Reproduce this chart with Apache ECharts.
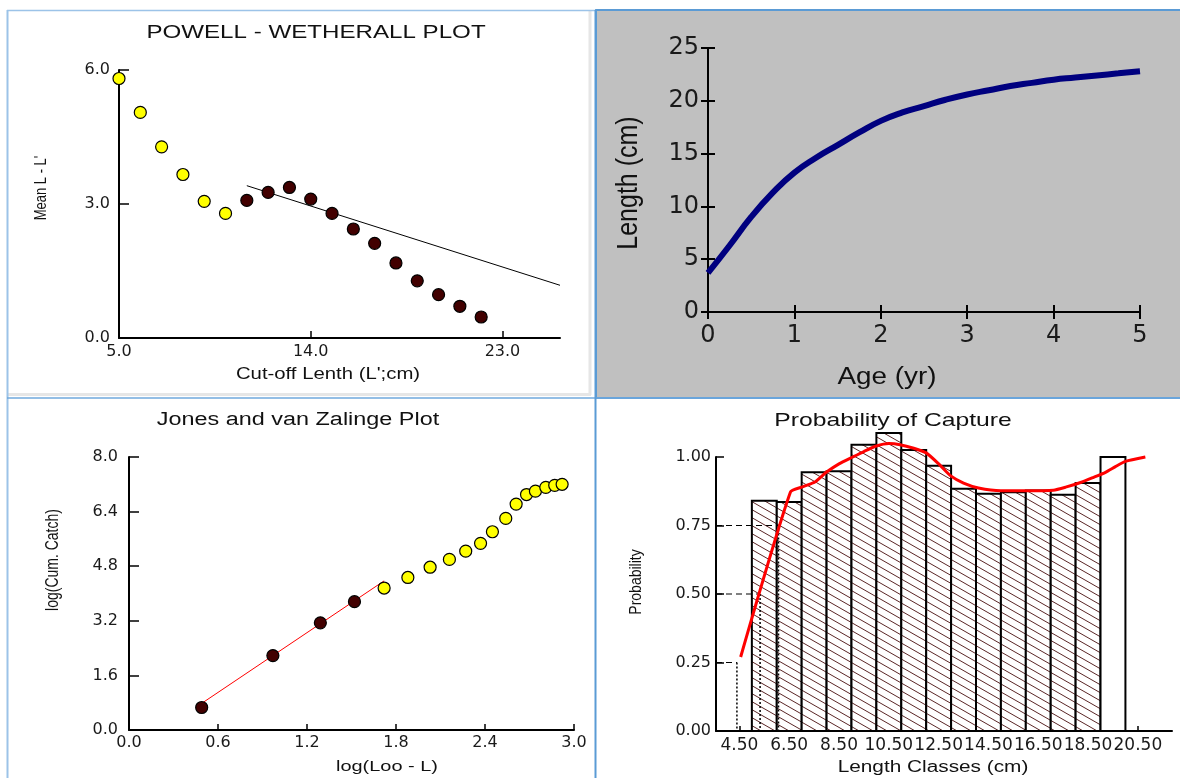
<!DOCTYPE html>
<html><head><meta charset="utf-8">
<script src="https://cdn.jsdelivr.net/npm/echarts@6/dist/echarts.min.js"></script>
<style>html,body{margin:0;padding:0;background:#fff}#c{width:1180px;height:778px}</style>
</head><body><div id="c"></div>
<script>
// ---------------- DATA ----------------
// Powell - Wetherall plot
const pwCutoff   = [5, 6, 7, 8, 9, 10, 11, 12, 13, 14, 15, 16, 17, 18, 19, 20, 21, 22];
const pwMeanDiff = [5.81, 5.05, 4.28, 3.66, 3.06, 2.79, 3.08, 3.26, 3.37, 3.11, 2.79, 2.44, 2.12, 1.68, 1.28, 0.97, 0.71, 0.47];
const pwUsed     = [0, 0, 0, 0, 0, 0, 1, 1, 1, 1, 1, 1, 1, 1, 1, 1, 1, 1];
const pwFitX     = [11, 25.7];
const pwFitY     = [3.41, 1.18];
const pwXTicks   = [5, 14, 23];

// Growth curve
const vbAge    = [0, 0.25, 0.5, 0.75, 1, 1.25, 1.5, 1.75, 2, 2.25, 2.5, 2.75, 3, 3.25, 3.5, 3.75, 4, 4.25, 4.5, 4.75, 5];
const vbLength = [3.7, 6.3, 9.0, 11.3, 13.2, 14.6, 15.8, 17.0, 18.1, 18.9, 19.5, 20.1, 20.6, 21.0, 21.4, 21.7, 22.0, 22.2, 22.4, 22.6, 22.8];

// Jones and van Zalinge plot
const jzX    = [0.49, 0.97, 1.29, 1.52, 1.72, 1.88, 2.03, 2.16, 2.27, 2.37, 2.45, 2.54, 2.61, 2.68, 2.74, 2.81, 2.87, 2.92];
const jzY    = [0.66, 2.18, 3.14, 3.76, 4.16, 4.47, 4.77, 5.00, 5.24, 5.47, 5.81, 6.20, 6.62, 6.90, 7.00, 7.11, 7.17, 7.20];
const jzUsed = [1, 1, 1, 1, 0, 0, 0, 0, 0, 0, 0, 0, 0, 0, 0, 0, 0, 0];
const jzFitX = [0.49, 1.72];
const jzFitY = [0.78, 4.37];

// Probability of capture
const lcMid     = [5.5, 6.5, 7.5, 8.5, 9.5, 10.5, 11.5, 12.5, 13.5, 14.5, 15.5, 16.5, 17.5, 18.5, 19.5];
const lcProb    = [0.840, 0.836, 0.944, 0.948, 1.045, 1.088, 1.026, 0.968, 0.884, 0.866, 0.871, 0.878, 0.862, 0.905, 1.000];
const lcHatched = [1, 1, 1, 1, 1, 1, 1, 1, 1, 1, 1, 1, 1, 1, 0];
const lcWidth   = 1;
const lcTicks   = [4.5, 6.5, 8.5, 10.5, 12.5, 14.5, 16.5, 18.5, 20.5];
const capLen  = [4.55, 6.55, 7.0, 7.55, 8.0, 8.5, 9.05, 9.5, 10.0, 10.5, 10.95, 11.5, 12.0, 12.5, 13.0, 13.5, 14.1, 15.0, 16.0, 17.1, 17.6, 18.2, 18.7, 19.2, 19.6, 20.0, 20.8];
const capProb = [0.27, 0.872, 0.89, 0.91, 0.945, 0.975, 1.0, 1.02, 1.04, 1.049, 1.045, 1.032, 1.015, 0.975, 0.93, 0.905, 0.887, 0.877, 0.877, 0.879, 0.89, 0.907, 0.925, 0.944, 0.965, 0.984, 1.0];
const selP = [0.25, 0.50, 0.75];
const selL = [4.40, 5.33, 6.07];

// ---------------- HELPERS ----------------
const zip = (a, b) => a.map((v, i) => [v, b[i]]);
const pick = (a, b, f, want) => a.map((v, i) => [v, b[i]]).filter((_, i) => f[i] === want);

function makeHatch() {
  const w = 14, h = 8;
  const c = document.createElement('canvas'); c.width = w; c.height = h;
  const g = c.getContext('2d');
  g.fillStyle = '#fff'; g.fillRect(0, 0, w, h);
  g.strokeStyle = '#5a2626'; g.lineWidth = 1;
  [-h, 0, h].forEach(dy => { g.beginPath(); g.moveTo(-w, dy - h); g.lineTo(2 * w, dy + 2 * h); g.stroke(); });
  return c;
}
const hatch = { image: makeHatch(), repeat: 'repeat' };

const LBL = '#1a1a1a';
const AX = { color: '#000', width: 2 };
const TK = { color: '#000', width: 1.5 };
const fmt = d => v => v.toFixed(d);

const BR_MIN = 3.56, BR_MAX = 21.87;

// ---------------- CHART ----------------
const chart = echarts.init(document.getElementById('c'), null, { renderer: 'canvas' });

const txt = (text, x, y, size, opts) => Object.assign({
  type: 'text', x, y, z: 10,
  style: { text, fontSize: size, fontFamily: 'Liberation Sans', fill: '#111', align: 'center', verticalAlign: 'middle' }
}, opts || {});

const option = {
  animation: false,
  backgroundColor: '#fff',
  grid: [
    { left: 119, top: 70, width: 441, height: 268 },
    { left: 708, top: 48, width: 432, height: 264 },
    { left: 129, top: 457, width: 445, height: 273 },
    { left: 716, top: 457, width: 456, height: 274 }
  ],
  xAxis: [
    { gridIndex: 0, type: 'value', min: 5, max: 25.7, splitLine: { show: false },
      axisLine: { onZero: false, lineStyle: AX },
      axisTick: { inside: true, length: 7, lineStyle: TK, customValues: pwXTicks },
      axisLabel: { customValues: pwXTicks, formatter: fmt(1), margin: 6, color: LBL, fontFamily: 'DejaVu Sans', fontSize: 16 } },
    { gridIndex: 1, type: 'value', min: 0, max: 5, interval: 1, position: 'bottom', splitLine: { show: false },
      axisLine: { onZero: false, lineStyle: AX },
      axisTick: { inside: false, length: 7, lineStyle: { color: '#000', width: 2 } },
      axisLabel: { margin: 12, color: LBL, fontFamily: 'DejaVu Sans', fontSize: 24 } },
    { gridIndex: 1, type: 'value', min: 0, max: 5, interval: 1, position: 'bottom', offset: 0, splitLine: { show: false },
      axisLine: { show: false },
      axisTick: { inside: true, length: 7, lineStyle: { color: '#000', width: 2 } },
      axisLabel: { show: false } },
    { gridIndex: 2, type: 'value', min: 0, max: 3, interval: 0.6, splitLine: { show: false },
      axisLine: { onZero: false, lineStyle: AX },
      axisTick: { inside: true, length: 6, lineStyle: TK },
      axisLabel: { formatter: fmt(1), margin: 5, color: LBL, fontFamily: 'DejaVu Sans', fontSize: 16 } },
    { gridIndex: 3, type: 'value', min: BR_MIN, max: BR_MAX, splitLine: { show: false },
      axisLine: { onZero: false, lineStyle: AX },
      axisTick: { inside: true, length: 5, lineStyle: TK, customValues: lcTicks },
      axisLabel: { customValues: lcTicks, formatter: fmt(2), margin: 6, color: LBL, fontFamily: 'DejaVu Sans', fontSize: 17 } }
  ],
  yAxis: [
    { gridIndex: 0, type: 'value', min: 0, max: 6, interval: 3, splitLine: { show: false },
      axisLine: { onZero: false, lineStyle: AX },
      axisTick: { inside: true, length: 10, lineStyle: TK },
      axisLabel: { formatter: fmt(1), margin: 9, color: LBL, fontFamily: 'DejaVu Sans', fontSize: 16 } },
    { gridIndex: 1, type: 'value', min: 0, max: 25, interval: 5, position: 'left', splitLine: { show: false },
      axisLine: { onZero: false, lineStyle: AX },
      axisTick: { inside: false, length: 7, lineStyle: { color: '#000', width: 2 } },
      axisLabel: { margin: 9, color: LBL, fontFamily: 'DejaVu Sans', fontSize: 24 } },
    { gridIndex: 1, type: 'value', min: 0, max: 25, interval: 5, position: 'left', offset: 0, splitLine: { show: false },
      axisLine: { show: false },
      axisTick: { inside: true, length: 7, lineStyle: { color: '#000', width: 2 } },
      axisLabel: { show: false } },
    { gridIndex: 2, type: 'value', min: 0, max: 8, interval: 1.6, splitLine: { show: false },
      axisLine: { onZero: false, lineStyle: AX },
      axisTick: { inside: true, length: 10, lineStyle: TK },
      axisLabel: { formatter: fmt(1), margin: 11, color: LBL, fontFamily: 'DejaVu Sans', fontSize: 16 } },
    { gridIndex: 3, type: 'value', min: 0, max: 1, interval: 0.25, splitLine: { show: false },
      axisLine: { onZero: false, lineStyle: AX },
      axisTick: { inside: true, length: 8, lineStyle: TK },
      axisLabel: { formatter: fmt(2), margin: 5, color: LBL, fontFamily: 'DejaVu Sans', fontSize: 16 } }
  ],
  series: [
    // --- Powell-Wetherall
    { type: 'line', xAxisIndex: 0, yAxisIndex: 0, data: zip(pwFitX, pwFitY), showSymbol: false,
      lineStyle: { color: '#000', width: 1 }, z: 2 },
    { type: 'scatter', xAxisIndex: 0, yAxisIndex: 0, data: pick(pwCutoff, pwMeanDiff, pwUsed, 0), symbolSize: 12,
      itemStyle: { color: '#ffff00', borderColor: '#000', borderWidth: 1.2, opacity: 1 }, z: 3 },
    { type: 'scatter', xAxisIndex: 0, yAxisIndex: 0, data: pick(pwCutoff, pwMeanDiff, pwUsed, 1), symbolSize: 12,
      itemStyle: { color: '#420000', borderColor: '#000', borderWidth: 1.2, opacity: 1 }, z: 3 },
    // --- Growth curve
    { type: 'line', xAxisIndex: 1, yAxisIndex: 1, data: zip(vbAge, vbLength), showSymbol: false, smooth: true,
      lineStyle: { color: '#00007f', width: 6 }, z: 3 },
    // --- Jones & van Zalinge
    { type: 'line', xAxisIndex: 3, yAxisIndex: 3, data: zip(jzFitX, jzFitY), showSymbol: false,
      lineStyle: { color: '#ff0000', width: 1 }, z: 2 },
    { type: 'scatter', xAxisIndex: 3, yAxisIndex: 3, data: pick(jzX, jzY, jzUsed, 0), symbolSize: 12,
      itemStyle: { color: '#ffff00', borderColor: '#000', borderWidth: 1.2, opacity: 1 }, z: 3 },
    { type: 'scatter', xAxisIndex: 3, yAxisIndex: 3, data: pick(jzX, jzY, jzUsed, 1), symbolSize: 12,
      itemStyle: { color: '#420000', borderColor: '#000', borderWidth: 1.2, opacity: 1 }, z: 3 },
    // --- Probability of capture: bars
    { type: 'custom', xAxisIndex: 4, yAxisIndex: 4, clip: false, z: 2,
      data: lcMid.map((m, i) => [m, lcProb[i], lcHatched[i]]),
      encode: { x: 0, y: 1 },
      renderItem: function (params, api) {
        const x = api.value(0), y = api.value(1), h = api.value(2);
        const p0 = api.coord([x - lcWidth / 2, y]);
        const p1 = api.coord([x + lcWidth / 2, 0]);
        return { type: 'rect', shape: { x: p0[0], y: p0[1], width: p1[0] - p0[0], height: p1[1] - p0[1] },
          style: { fill: h ? hatch : '#fff', stroke: '#000', lineWidth: 2 } };
      } },
    // selection ogive
    { type: 'line', xAxisIndex: 4, yAxisIndex: 4, data: zip(capLen, capProb), showSymbol: false, smooth: 0.2, clip: false,
      lineStyle: { color: '#ff0000', width: 3 }, z: 5 },
    // L25/L50/L75 guide lines
    ...selP.map((p, i) => ({ type: 'line', xAxisIndex: 4, yAxisIndex: 4, data: [[BR_MIN, p], [selL[i], p]], showSymbol: false,
      lineStyle: { color: '#000', width: 1, type: [6, 4] }, z: 4 })),
    ...selP.map((p, i) => ({ type: 'line', xAxisIndex: 4, yAxisIndex: 4, data: [[selL[i], p], [selL[i], 0]], showSymbol: false,
      lineStyle: { color: '#000', width: 1.5, type: [2, 2] }, z: 4 }))
  ],
  graphic: [
    { type: 'rect', z: -10, shape: { x: 596, y: 10, width: 586, height: 388 }, style: { fill: '#c0c0c0', stroke: '#5b9bd5', lineWidth: 2 } },
    { type: 'line', z: -9, shape: { x1: 590, y1: 11, x2: 590, y2: 395 }, style: { stroke: '#e6e6e6', lineWidth: 3 } },
    { type: 'line', z: -9, shape: { x1: 8, y1: 394.5, x2: 591, y2: 394.5 }, style: { stroke: '#e6e6e6', lineWidth: 3 } },
    { type: 'line', z: -8, shape: { x1: 7, y1: 10.5, x2: 596, y2: 10.5 }, style: { stroke: '#9cc3e8', lineWidth: 1.5 } },
    { type: 'line', z: -8, shape: { x1: 7.5, y1: 10, x2: 7.5, y2: 778 }, style: { stroke: '#9cc3e8', lineWidth: 2 } },
    { type: 'line', z: -7, shape: { x1: 7, y1: 398, x2: 1180, y2: 398 }, style: { stroke: '#6fa8dc', lineWidth: 1.5 } },
    { type: 'line', z: -7, shape: { x1: 595.5, y1: 10, x2: 595.5, y2: 778 }, style: { stroke: '#5b9bd5', lineWidth: 2 } },
    // titles and axis names
    txt('POWELL - WETHERALL PLOT', 316, 33, 19, { scaleX: 1.27 }),
    txt("Cut-off Lenth (L';cm)", 328, 375, 16, { scaleX: 1.27 }),
    txt("Mean L - L'", 42, 188, 13, { rotation: Math.PI / 2, scaleY: 1.25 }),
    txt('Age (yr)', 887, 378, 23, { scaleX: 1.21 }),
    txt('Length (cm)', 629, 183, 25, { rotation: Math.PI / 2, scaleY: 1.15 }),
    txt('Jones and van Zalinge Plot', 298, 420, 18, { scaleX: 1.3 }),
    txt('log(Loo - L)', 387, 767, 15, { scaleX: 1.33 }),
    txt('log(Cum. Catch)', 53, 560, 14, { rotation: Math.PI / 2, scaleY: 1.25 }),
    txt('Probability of Capture', 893, 421, 19, { scaleX: 1.3 }),
    txt('Length Classes (cm)', 933, 768, 16, { scaleX: 1.3 }),
    txt('Probability', 636, 582, 14, { rotation: Math.PI / 2, scaleY: 1.2 })
  ]
};
chart.setOption(option);
</script>
</body></html>
